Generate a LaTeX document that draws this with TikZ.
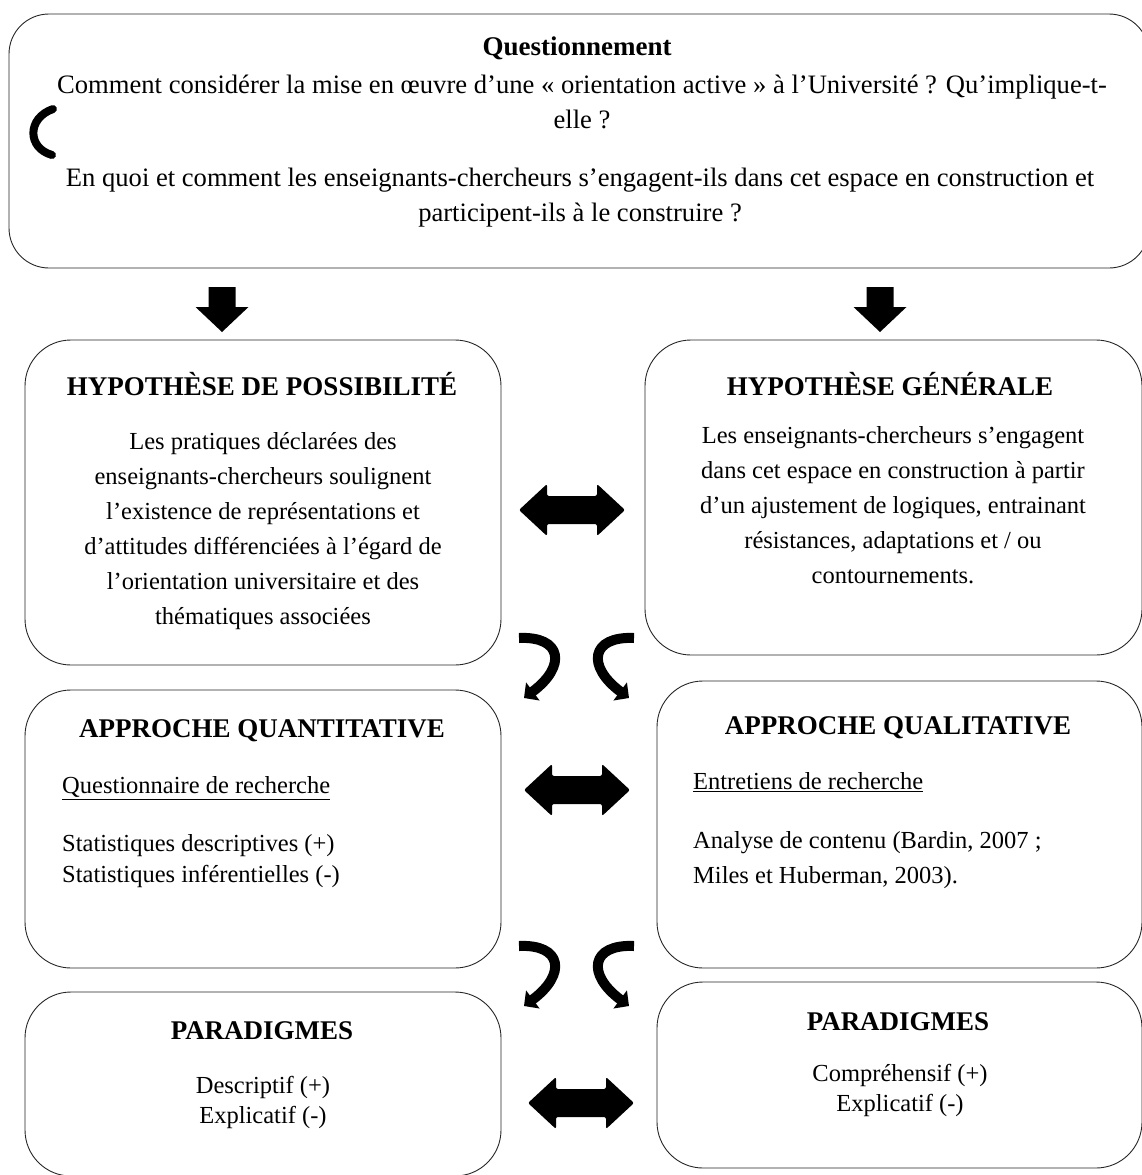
\documentclass[tikz,border=0pt]{standalone}
\usepackage{fontspec}
\setmainfont{Liberation Serif}
\usetikzlibrary{arrows.meta}
\tikzset{
  x=1pt, y=-1pt,
  box/.style={draw=black!85, line width=0.9pt, rounded corners=46pt, inner sep=0pt, outer sep=0pt, anchor=north west},
  topbox/.style={box, rounded corners=40pt},
  head/.style={font=\fontsize{27}{35}\selectfont\bfseries, inner sep=0pt},
  body/.style={font=\fontsize{24.5}{35}\selectfont, inner sep=0pt, align=center},
  topbody/.style={font=\fontsize{26.6}{35}\selectfont, inner sep=0pt, align=center},
  bodyl/.style={font=\fontsize{24.5}{31}\selectfont, inner sep=0pt, align=left, anchor=west},
  bodyc/.style={font=\fontsize{24.5}{30}\selectfont, inner sep=0pt, align=center},
  downarr/.pic={\fill (-13.5,0) -- (13.5,0) -- (13.5,20) -- (26.5,20) -- (0,45) -- (-26.5,20) -- (-13.5,20) -- cycle;},
  dblarr/.pic={\fill[rounded corners=2pt] (-53,0) -- (-25,-26) -- (-25,-14) -- (25,-14) -- (25,-26) -- (53,0) -- (25,26) -- (25,14) -- (-25,14) -- (-25,26) -- cycle;},
  curvarr/.style={line width=10pt, -{Triangle[width=22pt,length=11pt]}},
}
\begin{document}
\begin{tikzpicture}
\useasboundingbox (0,0) rectangle (1142,1175);

% boxes
\node[topbox, minimum width=1140pt, minimum height=254pt] (top) at (9,14) {};
\node[box, minimum width=476pt, minimum height=325pt] (hp) at (25,340) {};
\node[box, minimum width=497pt, minimum height=315pt] (hg) at (645,340) {};
\node[box, minimum width=476pt, minimum height=278pt] (aqn) at (25,690) {};
\node[box, minimum width=485pt, minimum height=287pt] (aql) at (657,681) {};
\node[box, minimum width=476pt, minimum height=184pt] (pl) at (25,992) {};
\node[box, minimum width=485pt, minimum height=186pt] (pr) at (657,982) {};

% top text
\node[head] (tq) at (577,48) {Questionnement};
\node[topbody] (t1) at (582,101.5) {Comment considérer la mise en œuvre d’une « orientation active » à l’Université ? Qu’implique-t-\\elle ?};
\node[topbody] (t2) at (580,197.5) {En quoi et comment les enseignants-chercheurs s’engagent-ils dans cet espace en construction et\\participent-ils à le construire ?};
\draw[line width=8pt, line cap=round] (53,109) .. controls (27,118) and (27,148) .. (52,155);

% hypothese de possibilite
\node[head] (hph) at (262,384) {HYPOTHÈSE DE POSSIBILITÉ};
\node[body] (hpb) at (263,531.5) {Les pratiques déclarées des\\enseignants-chercheurs soulignent\\l’existence de représentations et\\d’attitudes différenciées à l’égard de\\l’orientation universitaire et des\\thématiques associées};

% hypothese generale
\node[head] (hgh) at (890,384) {HYPOTHÈSE GÉNÉRALE};
\node[body] (hgb) at (893,505) {Les enseignants-chercheurs s’engagent\\dans cet espace en construction à partir\\d’un ajustement de logiques, entrainant\\résistances, adaptations et / ou\\contournements.};

% approche quantitative
\node[head] (aqnh) at (262,731) {APPROCHE QUANTITATIVE};
\node[bodyl] (aqnq) at (62,788) {\underline{Questionnaire de recherche}};
\node[bodyl] (aqnb) at (62,861.5) {Statistiques descriptives (+)\\Statistiques inférentielles (-)};

% approche qualitative
\node[head] (aqlh) at (898,728) {APPROCHE QUALITATIVE};
\node[bodyl] (aqle) at (693,782) {\underline{Entretiens de recherche}};
\node[bodyl, font=\fontsize{24.5}{35}\selectfont] (aqlb) at (693,860.5) {Analyse de contenu (Bardin, 2007 ;\\Miles et Huberman, 2003).};

% paradigmes
\node[head] (plh) at (262,1031) {PARADIGMES};
\node[bodyc] (plb) at (263,1102) {Descriptif (+)\\Explicatif (-)};
\node[head] (prh) at (898,1022) {PARADIGMES};
\node[bodyc] (prb) at (900,1090) {Compréhensif (+)\\Explicatif (-)};

% block arrows
\pic at (222,287) {downarr};
\pic at (880,287) {downarr};
\pic at (572,510) {dblarr};
\pic at (577,790) {dblarr};
\pic at (581,1103) {dblarr};

% curved arrows
\foreach \dy in {0,308}{
  \begin{scope}[yshift=-\dy pt]
    \draw[curvarr] (519,638) .. controls (562,636) and (567,666) .. (524,698);
    \draw[curvarr] (634,638) .. controls (591,636) and (586,666) .. (629,698);
  \end{scope}
}
\end{tikzpicture}
\end{document}
